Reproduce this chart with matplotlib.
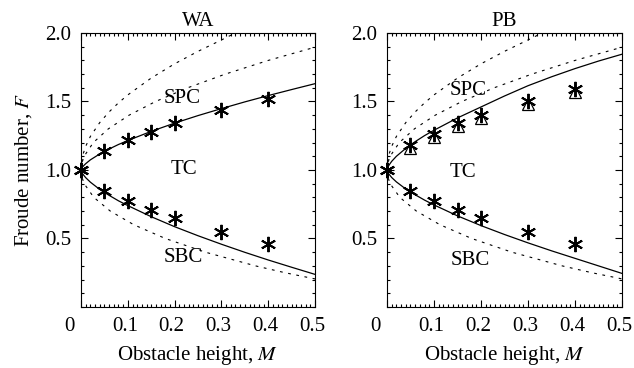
import matplotlib
matplotlib.use("Agg")
import matplotlib.pyplot as plt
import matplotlib.transforms as mtransforms
from matplotlib.ticker import MultipleLocator, FixedLocator

plt.rcParams["font.family"] = ["Liberation Serif", "DejaVu Serif"]
plt.rcParams["mathtext.fontset"] = "stix"
plt.rcParams["font.size"] = 15

# 障害物高さ M の格子 (曲線用)
m_grid = [0.0, 0.002, 0.005, 0.01, 0.02, 0.04, 0.06, 0.08, 0.1, 0.15,
          0.2, 0.25, 0.3, 0.35, 0.4, 0.45, 0.5]

# 実線 (上側・下側の臨界曲線)
wa_upper_solid = [1.0, 1.016, 1.029, 1.046, 1.074, 1.117, 1.153, 1.186, 1.215,
                  1.282, 1.342, 1.397, 1.448, 1.497, 1.543, 1.587, 1.630]
wa_lower_solid = [1.0, 0.981, 0.965, 0.944, 0.911, 0.858, 0.815, 0.775, 0.740,
                  0.659, 0.586, 0.520, 0.458, 0.399, 0.343, 0.290, 0.238]
pb_upper_solid = [1.0, 1.021, 1.039, 1.063, 1.100, 1.158, 1.207, 1.251, 1.290,
                  1.380, 1.460, 1.540, 1.615, 1.680, 1.740, 1.795, 1.845]
pb_lower_solid = [1.0, 0.981, 0.966, 0.945, 0.913, 0.861, 0.819, 0.780, 0.745,
                  0.665, 0.594, 0.529, 0.468, 0.410, 0.355, 0.300, 0.245]

# 外側の破線 (上側)
outer_dash_m = [0.0, 0.002, 0.005, 0.01, 0.02, 0.04, 0.06, 0.08, 0.1, 0.15,
                0.2, 0.25, 0.3, 0.33]
outer_dash_f = [1.0, 1.077, 1.122, 1.173, 1.245, 1.346, 1.424, 1.490, 1.548,
                1.671, 1.775, 1.866, 1.949, 2.0]

# 内側の破線 (上側・下側)
inner_up_m = [0.0, 0.0017, 0.0066, 0.0262, 0.0583, 0.1027, 0.1594, 0.228,
              0.3084, 0.4004, 0.504]
inner_up_f = [1.0, 1.05, 1.1, 1.2, 1.3, 1.4, 1.5, 1.6, 1.7, 1.8, 1.9]
inner_lo_m = [0.0, 0.0017, 0.0067, 0.0273, 0.0625, 0.1129, 0.1801, 0.2657,
              0.3728, 0.436, 0.507]
inner_lo_f = [1.0, 0.95, 0.9, 0.8, 0.7, 0.6, 0.5, 0.4, 0.3, 0.25, 0.2]

# 実験値
m_pts = [0.0, 0.05, 0.1, 0.15, 0.2, 0.3, 0.4]
wa_upper_pts = [1.0, 1.14, 1.22, 1.28, 1.34, 1.44, 1.52]
wa_lower_pts = [1.0, 0.85, 0.77, 0.71, 0.65, 0.55, 0.46]
pb_upper_pts = [1.0, 1.18, 1.26, 1.34, 1.40, 1.50, 1.59]
pb_upper_tri = [1.16, 1.24, 1.32, 1.38, 1.48, 1.57]
pb_lower_pts = [1.0, 0.85, 0.77, 0.71, 0.65, 0.55, 0.46]

# 軸目盛
x_ticks = [0.0, 0.1, 0.2, 0.3, 0.4, 0.5]
x_ticklabels = ["0", "0.1", "0.2", "0.3", "0.4", "0.5"]
y_ticks = [0.5, 1.0, 1.5, 2.0]

fig = plt.figure(figsize=(6.34, 3.68), dpi=100)
ax1 = fig.add_axes([0.1278, 0.1658, 0.3691, 0.7446])
ax2 = fig.add_axes([0.6104, 0.1658, 0.3707, 0.7446])

dash = (0, (2.5, 5))
star = (6, 2, 0)


def draw_panel(ax, title, upper_solid, lower_solid, upper_pts, lower_pts):
    ax.plot(m_grid, upper_solid, color="black", lw=0.9)
    ax.plot(m_grid, lower_solid, color="black", lw=0.9)
    ax.plot(outer_dash_m, outer_dash_f, color="black", lw=0.8, ls=dash)
    ax.plot(inner_up_m, inner_up_f, color="black", lw=0.8, ls=dash)
    ax.plot(inner_lo_m, inner_lo_f, color="black", lw=0.8, ls=dash)
    ax.plot(m_pts, upper_pts, ls="none", marker=star, ms=11, mew=1.4,
            color="black", clip_on=False)
    ax.plot(m_pts, lower_pts, ls="none", marker=star, ms=11, mew=1.4,
            color="black", clip_on=False)

    ax.set_xlim(0, 0.5)
    ax.set_ylim(0, 2.0)
    ax.set_title(title, fontsize=15, pad=5)
    ax.set_xlabel("Obstacle height, $M$", labelpad=6)
    ax.xaxis.set_major_locator(FixedLocator(x_ticks))
    ax.xaxis.set_minor_locator(MultipleLocator(0.01))
    ax.set_xticklabels(x_ticklabels)
    ax.yaxis.set_major_locator(FixedLocator(y_ticks))
    ax.yaxis.set_minor_locator(MultipleLocator(0.1))
    ax.tick_params(which="both", direction="in", top=True, right=True,
                   labelsize=15, width=0.8)
    ax.tick_params(which="major", length=5, pad=7)
    ax.tick_params(which="minor", length=2.5)
    for i, lab in enumerate(ax.get_xticklabels()):
        dx = -12 if i == 0 else -3
        off = mtransforms.ScaledTranslation(dx / 100, 0, fig.dpi_scale_trans)
        lab.set_transform(lab.get_transform() + off)
    for s in ax.spines.values():
        s.set_linewidth(0.8)


draw_panel(ax1, "WA", wa_upper_solid, wa_lower_solid, wa_upper_pts, wa_lower_pts)
draw_panel(ax2, "PB", pb_upper_solid, pb_lower_solid, pb_upper_pts, pb_lower_pts)
ax2.plot(m_pts[1:], pb_upper_tri, ls="none", marker="^", ms=9, mew=0.9,
         mfc="none", color="black")

ax1.set_ylabel("Froude number, $F$", labelpad=8)

ax1.text(0.216, 1.525, "SPC", ha="center", va="center")
ax1.text(0.219, 1.0, "TC", ha="center", va="center")
ax1.text(0.219, 0.36, "SBC", ha="center", va="center")
ax2.text(0.172, 1.58, "SPC", ha="center", va="center")
ax2.text(0.162, 0.98, "TC", ha="center", va="center")
ax2.text(0.177, 0.34, "SBC", ha="center", va="center")

fig.savefig("out.png", dpi=100)
